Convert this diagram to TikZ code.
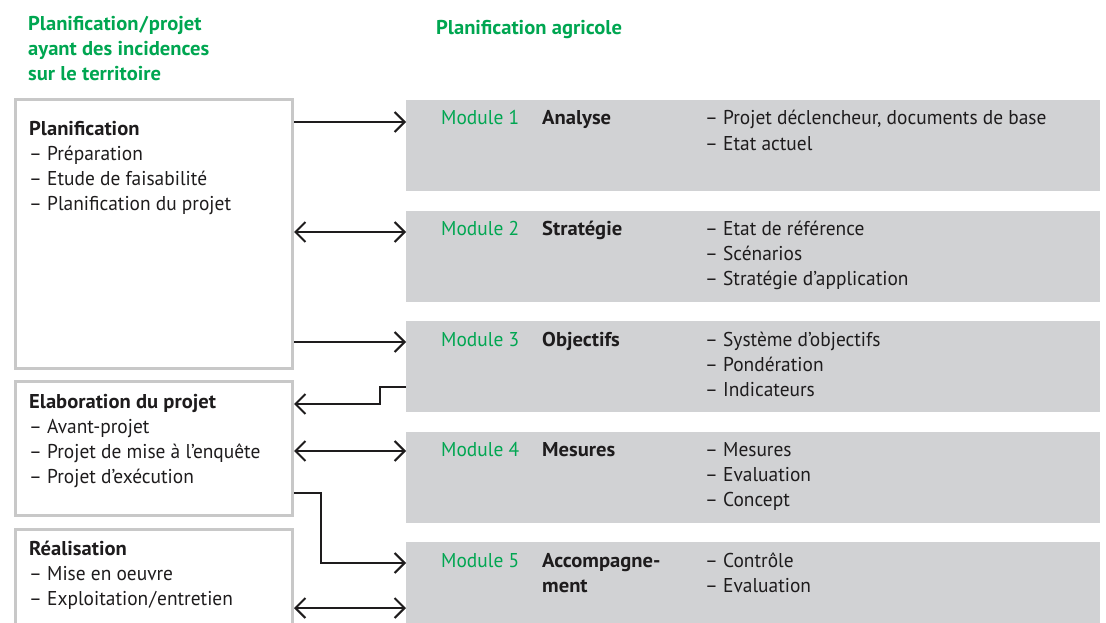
\documentclass[tikz,border=0pt]{standalone}
\usepackage{fontspec}
\setmainfont{PT Sans}[FakeStretch=0.97,BoldFeatures={FakeStretch=1.03}]
\usepackage{tikz}
\usetikzlibrary{arrows.meta}
\definecolor{agrigreen}{RGB}{0,166,81}
\definecolor{modgray}{RGB}{209,210,212}
\definecolor{boxgray}{RGB}{200,200,200}
\definecolor{inkdark}{RGB}{30,28,29}

\begin{document}
\begin{tikzpicture}[x=1pt,y=-1pt,
  every node/.style={inner sep=0pt,text=inkdark,font=\fontsize{20}{25}\selectfont},
  planbox/.style={draw=boxgray,line width=3pt,fill=white,anchor=north west,minimum width=277pt},
  modbox/.style={fill=modgray,anchor=north west,minimum width=694pt,minimum height=91pt},
  head/.style={anchor=base west,align=left,text=agrigreen,font=\fontsize{20}{25}\selectfont\bfseries},
  items/.style={anchor=base west,align=left},
  modnum/.style={anchor=base west,text=agrigreen},
  modname/.style={anchor=base west,align=left,font=\fontsize{20}{25}\selectfont\bfseries},
  link/.style={draw=inkdark,line width=2pt,-{Straight Barb[length=10pt,width=20pt]}},
  dlink/.style={link,{Straight Barb[length=10pt,width=20pt]}-{Straight Barb[length=10pt,width=20pt]}}]
  \useasboundingbox
    (0,0)
    rectangle
    (1106,623);
  \node [head] (lefthead) at (28,81)
    {Planification\kern1pt/\kern1pt projet\\ayant des incidences\\sur le territoire};
  \node [head] (righthead) at (436,35)
    {Planification agricole};
  \node [planbox,minimum height=269pt] (plan) at (14,98) {};
  \node [planbox,minimum height=134pt] (elab) at (14,380) {};
  \node [planbox,minimum height=140pt] (real) at (14,528) {};
  \node [items] (plantext) at (29,210)
    {\textbf{Planification}\\– Préparation\\– Etude de faisabilité\\– Planification du projet};
  \node [items] (elabtext) at (29,483)
    {\textbf{Elaboration du projet}\\– Avant-projet\\– Projet de mise à l’enquête\\– Projet d’exécution};
  \node [items] (realtext) at (29,605)
    {\textbf{Réalisation}\\– Mise en oeuvre\\– Exploitation\kern1pt/\kern1pt entretien};
  \node [modbox] (mod1) at (406,100) {};
  \node [modbox] (mod2) at (406,210.5) {};
  \node [modbox] (mod3) at (406,321) {};
  \node [modbox] (mod4) at (406,431.5) {};
  \node [modbox] (mod5) at (406,542) {};
  \node [modnum] (num1) at (441,125) {Module 1};
  \node [modname] (name1) at (542,125) {Analyse};
  \node [items] (list1) at (705,150)
    {– Projet déclencheur, documents de base\\– Etat actuel};
  \node [modnum] (num2) at (441,235.5) {Module 2};
  \node [modname] (name2) at (542,235.5) {Stratégie};
  \node [items] (list2) at (705,285.5)
    {– Etat de référence\\– Scénarios\\– Stratégie d’application};
  \node [modnum] (num3) at (441,346) {Module 3};
  \node [modname] (name3) at (542,346) {Objectifs};
  \node [items] (list3) at (705,396)
    {– Système d’objectifs\\– Pondération\\– Indicateurs};
  \node [modnum] (num4) at (441,456.5) {Module 4};
  \node [modname] (name4) at (542,456.5) {Mesures};
  \node [items] (list4) at (705,506.5)
    {– Mesures\\– Evaluation\\– Concept};
  \node [modnum] (num5) at (441,567) {Module 5};
  \node [modname] (name5) at (542,592) {Accompagne-\\ment};
  \node [items] (list5) at (705,592)
    {– Contrôle\\– Evaluation};
  \draw [link]
    (plan.east |- 0,122)
    --
    (mod1.west |- 0,122);
  \draw [dlink]
    (plan.east |- 0,232)
    --
    (mod2.west |- 0,232);
  \draw [link]
    (plan.east |- 0,342)
    --
    (mod3.west |- 0,342);
  \draw [link]
    (mod3.west |- 0,387)
    -|
    (380,404)
    --
    (elab.east |- 0,404);
  \draw [dlink]
    (elab.east |- 0,451)
    --
    (mod4.west |- 0,451);
  \draw [link]
    (elab.east |- 0,493)
    -|
    (321,563)
    --
    (mod5.west |- 0,563);
  \draw [dlink]
    (real.east |- 0,608)
    --
    (mod5.west |- 0,608);
\end{tikzpicture}
\end{document}
